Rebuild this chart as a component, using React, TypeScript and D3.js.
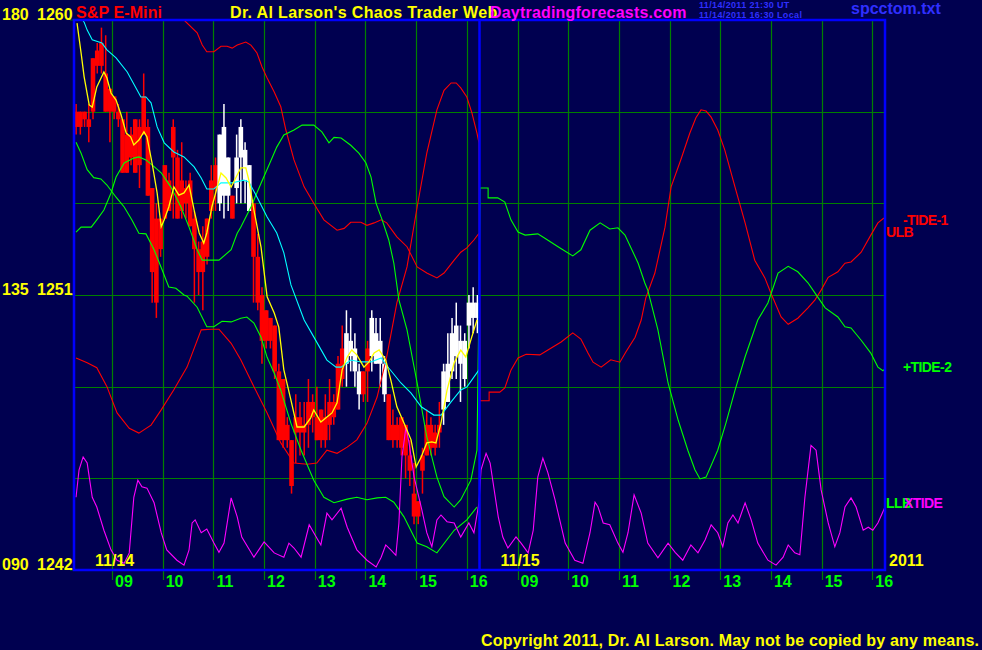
import React from 'react';
import * as d3 from 'd3';

const W = 982;
const H = 650;

// ---- axes / labels ----
const sessionDays = ['11/14', '11/15'];
const sessionStartHour = 8.25;
const sessionLength = 8;
const hourTicks = [9, 10, 11, 12, 13, 14, 15, 16];
const priceDomain = [1242, 1260];
const cycleDomain = [90, 180];
const priceGrid = [1245, 1248, 1251, 1254, 1257];
const priceLabels = [1260, 1251, 1242];
const cycleLabels = ['180', '135', '090'];
const yearLabel = '2011';

// ---- 5-minute bars, day 1 (open, high, low, close) ----
const bars: number[][] = [
  [1257.0, 1257.25, 1256.25, 1256.5], [1256.5, 1257.0, 1256.25, 1257.0], [1257.0, 1257.0, 1256.5, 1256.75],
  [1256.75, 1257.25, 1256.0, 1256.5], [1257.0, 1258.75, 1256.75, 1258.75], [1258.5, 1259.25, 1258.25, 1259.0],
  [1259.25, 1259.75, 1258.25, 1258.5], [1258.25, 1259.5, 1257.0, 1257.0], [1257.75, 1257.75, 1256.0, 1257.0],
  [1257.0, 1257.5, 1256.75, 1257.5], [1257.0, 1257.25, 1256.5, 1256.75], [1256.75, 1256.75, 1255.0, 1255.0],
  [1255.0, 1257.0, 1255.0, 1256.25], [1256.25, 1256.5, 1255.25, 1255.5], [1255.0, 1256.75, 1255.0, 1256.75],
  [1256.5, 1256.75, 1254.5, 1255.25], [1256.25, 1258.25, 1256.25, 1257.5], [1256.5, 1256.75, 1254.25, 1254.25],
  [1254.5, 1254.5, 1250.75, 1251.75], [1253.5, 1254.0, 1250.25, 1250.75], [1252.5, 1253.5, 1252.25, 1253.5],
  [1253.5, 1255.25, 1253.5, 1255.25], [1254.75, 1255.0, 1253.75, 1253.75], [1255.5, 1256.75, 1253.5, 1256.5],
  [1255.5, 1255.75, 1253.5, 1253.5], [1253.75, 1256.0, 1253.5, 1254.75], [1254.0, 1254.75, 1253.5, 1254.5],
  [1254.75, 1255.0, 1253.25, 1253.25], [1253.5, 1253.75, 1250.75, 1252.5], [1252.5, 1252.75, 1251.0, 1251.75],
  [1251.75, 1253.25, 1250.5, 1252.75], [1252.25, 1253.5, 1252.0, 1253.5], [1253.75, 1255.25, 1253.5, 1254.75],
  [1254.5, 1255.5, 1253.75, 1255.25], [1254.0, 1256.25, 1253.75, 1256.25], [1254.25, 1257.25, 1253.5, 1256.5],
  [1255.5, 1255.5, 1253.75, 1254.25], [1254.25, 1254.25, 1253.5, 1253.5], [1254.5, 1256.25, 1254.0, 1255.5],
  [1255.5, 1256.75, 1254.0, 1256.5], [1255.75, 1256.0, 1254.0, 1254.75], [1255.25, 1255.25, 1253.75, 1253.75],
  [1254.0, 1254.0, 1250.75, 1252.25], [1252.25, 1253.0, 1250.5, 1250.75], [1251.0, 1251.25, 1248.75, 1249.5],
  [1249.5, 1250.5, 1249.25, 1250.5], [1250.25, 1250.25, 1249.25, 1249.5], [1250.0, 1250.0, 1248.25, 1248.5],
  [1248.5, 1248.75, 1246.25, 1246.25], [1246.25, 1248.25, 1246.0, 1248.25], [1246.75, 1247.0, 1246.0, 1246.25],
  [1246.25, 1246.25, 1244.5, 1244.75], [1246.5, 1247.75, 1245.5, 1247.0], [1247.0, 1247.5, 1245.75, 1246.5],
  [1246.5, 1247.5, 1245.75, 1246.75], [1246.75, 1248.25, 1246.0, 1247.5], [1247.5, 1247.75, 1246.5, 1247.0],
  [1247.0, 1248.0, 1246.25, 1246.25], [1246.25, 1247.25, 1246.0, 1247.25], [1247.0, 1247.75, 1246.0, 1246.25],
  [1246.75, 1248.25, 1246.25, 1247.5], [1247.5, 1247.75, 1246.75, 1247.0], [1247.25, 1249.0, 1247.25, 1248.75],
  [1248.25, 1250.0, 1248.0, 1249.25], [1248.75, 1250.5, 1248.0, 1249.75], [1249.5, 1250.25, 1248.5, 1249.0],
  [1249.25, 1249.75, 1248.0, 1248.5], [1248.5, 1248.75, 1247.25, 1247.75], [1247.75, 1248.5, 1247.5, 1248.5],
  [1248.5, 1249.5, 1247.5, 1249.25], [1249.0, 1250.5, 1248.5, 1250.25], [1249.75, 1250.25, 1248.75, 1248.75],
  [1248.75, 1250.25, 1248.0, 1249.5], [1248.75, 1249.0, 1247.5, 1247.75], [1247.75, 1247.75, 1246.25, 1246.25],
  [1246.25, 1247.25, 1246.0, 1246.75], [1246.75, 1247.0, 1246.0, 1246.25], [1246.0, 1247.0, 1245.75, 1247.0],
  [1246.75, 1246.75, 1245.0, 1245.75], [1245.75, 1246.25, 1244.75, 1245.25], [1244.5, 1245.5, 1243.5, 1243.75],
  [1243.75, 1244.25, 1243.5, 1244.25], [1245.25, 1246.0, 1244.5, 1245.75], [1245.75, 1247.25, 1245.75, 1246.75],
  [1246.75, 1247.0, 1245.75, 1246.0], [1246.0, 1246.75, 1245.75, 1246.5], [1246.5, 1247.5, 1246.0, 1246.75],
  [1247.25, 1248.75, 1246.75, 1248.5], [1247.5, 1249.75, 1247.5, 1248.75], [1248.5, 1250.25, 1248.25, 1249.75],
  [1249.0, 1250.75, 1248.25, 1250.0], [1249.5, 1250.0, 1247.5, 1248.75], [1248.25, 1249.75, 1248.0, 1249.5],
  [1250.0, 1251.0, 1249.25, 1250.75], [1250.75, 1251.25, 1249.75, 1250.25], [1250.25, 1251.0, 1249.75, 1250.75],
];
const barsPerHour = 12;

// ---- price averages [session hour, price] ----
const fastAvg: number[][] = [
  [0.06, 1259.9], [0.14, 1258.92], [0.2, 1258.14], [0.3, 1257.22], [0.36, 1257.15], [0.45, 1257.81], [0.59, 1258.3],
  [0.65, 1258.1], [0.73, 1257.61], [0.83, 1257.38], [0.93, 1256.89], [1.03, 1256.3], [1.12, 1256.17], [1.18, 1255.91],
  [1.28, 1256.07], [1.38, 1256.34], [1.44, 1256.17], [1.54, 1255.32], [1.64, 1254.34], [1.72, 1253.23], [1.78, 1253.46],
  [1.87, 1253.88], [1.97, 1254.54], [2.07, 1254.27], [2.17, 1254.34], [2.27, 1254.6], [2.37, 1253.78], [2.47, 1253.03],
  [2.56, 1252.7], [2.62, 1253.03], [2.72, 1253.88], [2.9, 1254.99], [3.0, 1254.83], [3.1, 1254.53], [3.2, 1254.86],
  [3.29, 1255.16], [3.39, 1255.16], [3.45, 1254.76], [3.55, 1253.78], [3.69, 1252.57], [3.81, 1250.94], [3.95, 1250.41],
  [4.04, 1249.95], [4.14, 1248.55], [4.28, 1247.56], [4.4, 1246.68], [4.54, 1246.68], [4.67, 1246.98], [4.73, 1247.24],
  [4.87, 1246.84], [4.99, 1247.01], [5.09, 1247.14], [5.19, 1247.47], [5.29, 1248.55], [5.39, 1248.97], [5.48, 1249.2],
  [5.58, 1249.04], [5.72, 1248.64], [5.82, 1248.81], [5.92, 1249.1], [6.02, 1249.2], [6.15, 1248.87], [6.25, 1248.22],
  [6.37, 1247.34], [6.51, 1246.81], [6.65, 1246.26], [6.75, 1245.37], [6.85, 1245.7], [6.96, 1246.16], [7.06, 1246.19],
  [7.14, 1246.16], [7.24, 1246.81], [7.36, 1247.89], [7.5, 1248.78], [7.63, 1249.2], [7.73, 1248.97], [7.83, 1249.53],
  [7.95, 1250.18],
];
const slowAvg: number[][] = [
  [0.06, 1260.26], [0.2, 1259.93], [0.26, 1259.67], [0.36, 1259.35], [0.55, 1259.25], [0.65, 1259.02], [0.83, 1258.76],
  [1.05, 1258.3], [1.32, 1257.48], [1.42, 1257.48], [1.52, 1257.29], [1.64, 1256.5], [1.78, 1255.98], [1.97, 1255.68],
  [2.17, 1255.52], [2.37, 1255.19], [2.51, 1254.83], [2.62, 1254.47], [2.76, 1254.47], [2.9, 1254.67], [3.12, 1254.67],
  [3.35, 1254.76], [3.45, 1254.7], [3.61, 1254.21], [3.81, 1253.55], [4.0, 1253.03], [4.14, 1252.38], [4.28, 1251.33],
  [4.54, 1250.18], [4.73, 1249.63], [4.99, 1248.87], [5.17, 1248.64], [5.27, 1248.64], [5.46, 1248.87], [5.66, 1248.81],
  [5.86, 1248.81], [6.06, 1248.94], [6.21, 1248.61], [6.45, 1248.12], [6.65, 1247.79], [6.85, 1247.34], [7.1, 1247.07],
  [7.24, 1247.07], [7.44, 1247.5], [7.63, 1247.89], [7.75, 1247.99], [7.99, 1248.55],
];

// ---- tides on the 090..180 cycle scale [session hour, value] ----
const upperBand: number[][] = [
  [2.01, 181.3], [2.17, 180.0], [2.43, 177.9], [2.53, 175.9], [2.62, 174.8], [2.76, 174.8], [2.9, 175.7], [3.02, 175.7],
  [3.12, 175.4], [3.22, 175.9], [3.39, 176.4], [3.49, 175.9], [3.61, 174.6], [3.71, 172.3], [3.81, 170.5], [3.95, 168.2],
  [4.08, 165.8], [4.18, 162.0], [4.34, 157.1], [4.54, 152.7], [4.73, 150.0], [4.93, 147.3], [5.19, 145.6], [5.33, 145.9],
  [5.46, 146.9], [5.66, 146.9], [5.78, 146.4], [5.92, 146.8], [6.06, 147.3], [6.17, 146.8], [6.37, 144.5], [6.57, 142.9],
  [6.77, 139.6], [6.96, 138.6], [7.16, 137.8], [7.3, 138.6], [7.5, 140.7], [7.63, 142.0], [7.75, 142.7], [7.89, 144.0],
  [7.99, 145.1],
];
const tide1: number[][] = [
  [0.04, 124.7], [0.26, 123.9], [0.45, 123.1], [0.65, 120.0], [0.85, 115.7], [1.09, 113.2], [1.28, 112.4], [1.52, 113.7],
  [1.72, 116.2], [1.97, 119.5], [2.23, 123.2], [2.51, 129.3], [2.7, 129.4], [2.86, 129.4], [3.1, 127.1], [3.29, 124.4],
  [3.55, 120.0], [3.81, 115.7], [4.08, 110.8], [4.34, 107.5], [4.6, 107.3], [4.79, 107.5], [4.99, 109.6], [5.19, 109.1],
  [5.39, 110.1], [5.58, 111.3], [5.78, 114.0], [5.98, 118.3], [6.17, 124.9], [6.37, 133.7], [6.57, 139.6], [6.77, 149.4],
  [6.96, 158.2], [7.16, 165.3], [7.3, 168.5], [7.44, 169.7], [7.54, 169.7], [7.63, 168.9], [7.75, 167.4], [7.85, 164.8],
  [7.95, 161.5], [7.99, 159.9],
  [8.01, 117.7], [8.19, 117.7], [8.19, 119.1], [8.4, 119.1], [8.5, 119.8], [8.62, 122.7], [8.76, 124.7], [8.92, 125.3],
  [9.19, 125.2], [9.35, 126.0], [9.61, 127.3], [9.84, 128.8], [10.0, 127.8], [10.14, 125.5], [10.24, 124.0], [10.4, 123.2],
  [10.59, 124.4], [10.77, 124.0], [10.89, 125.7], [11.07, 128.1], [11.19, 130.9], [11.28, 134.5], [11.46, 138.6],
  [11.66, 146.1], [11.78, 152.7], [11.97, 157.1], [12.15, 161.5], [12.27, 164.0], [12.37, 165.3], [12.47, 165.1],
  [12.57, 164.1], [12.7, 162.0], [12.84, 158.7], [13.04, 152.7], [13.24, 146.8], [13.43, 140.7], [13.63, 137.8],
  [13.75, 135.3], [13.95, 131.4], [14.09, 130.2], [14.28, 131.2], [14.48, 132.9], [14.62, 134.2], [14.74, 135.8],
  [14.88, 137.9], [15.07, 138.8], [15.21, 140.2], [15.33, 140.4], [15.53, 142.0], [15.72, 144.8], [15.86, 146.8],
  [15.98, 147.6],
];
const tide2: number[][] = [
  [0.04, 145.3], [0.14, 146.1], [0.34, 146.1], [0.45, 147.3], [0.59, 148.9], [0.73, 151.7], [0.83, 154.3], [0.99, 156.6],
  [1.18, 157.4], [1.28, 157.6], [1.42, 157.1], [1.58, 156.0], [1.72, 155.0], [1.91, 152.7], [2.11, 149.4], [2.27, 146.1],
  [2.43, 142.4], [2.53, 140.7], [2.86, 140.7], [3.1, 142.4], [3.22, 145.1], [3.29, 146.1], [3.49, 149.4], [3.69, 153.3],
  [3.89, 157.1], [4.0, 159.2], [4.14, 161.2], [4.34, 162.0], [4.5, 162.8], [4.73, 162.8], [4.89, 161.7], [5.03, 159.9],
  [5.13, 160.8], [5.27, 160.7], [5.46, 159.5], [5.62, 158.2], [5.76, 156.6], [5.86, 154.3], [5.96, 150.0], [6.08, 147.3],
  [6.21, 144.0], [6.31, 140.2], [6.41, 134.2], [6.57, 129.3], [6.77, 120.6], [6.96, 111.8], [7.16, 105.2], [7.3, 102.0],
  [7.5, 100.3], [7.63, 101.5], [7.83, 104.7], [7.95, 109.6], [7.99, 134.2],
  [8.01, 152.5], [8.17, 152.5], [8.17, 150.9], [8.36, 150.9], [8.5, 150.2], [8.62, 147.3], [8.76, 145.3], [8.9, 144.8],
  [9.15, 145.0], [9.29, 144.3], [9.55, 142.9], [9.84, 141.4], [10.0, 142.4], [10.18, 145.6], [10.38, 146.8], [10.57, 145.8],
  [10.73, 146.0], [10.87, 144.8], [10.99, 142.7], [11.13, 140.2], [11.26, 137.0], [11.32, 135.8], [11.52, 129.3],
  [11.72, 120.6], [11.92, 114.5], [12.11, 109.6], [12.25, 106.4], [12.35, 104.9], [12.47, 105.2], [12.7, 109.6],
  [12.86, 114.0], [13.04, 119.4], [13.24, 124.9], [13.49, 130.9], [13.69, 133.7], [13.89, 138.6], [14.09, 139.7],
  [14.28, 138.8], [14.48, 137.0], [14.62, 135.3], [14.82, 132.9], [15.07, 131.4], [15.21, 129.8], [15.33, 129.6],
  [15.53, 127.6], [15.72, 125.5], [15.86, 123.2], [15.96, 122.6], [16.0, 122.9],
];
const lowerBand: number[][] = [
  [0.04, 160.0], [0.14, 158.2], [0.26, 155.5], [0.39, 154.2], [0.53, 154.0], [0.65, 153.0], [0.83, 151.0], [0.99, 149.4],
  [1.14, 147.3], [1.28, 145.1], [1.42, 145.0], [1.58, 142.4], [1.74, 139.1], [1.87, 136.3], [2.01, 136.1], [2.17, 135.0],
  [2.23, 134.8], [2.43, 133.0], [2.62, 129.8], [2.76, 129.8], [2.92, 130.7], [3.1, 130.6], [3.29, 131.2], [3.41, 131.4],
  [3.55, 130.4], [3.69, 128.1], [3.81, 124.8], [3.95, 122.2], [4.08, 119.4], [4.28, 114.0], [4.48, 109.6], [4.73, 104.7],
  [4.93, 101.9], [5.13, 101.0], [5.39, 101.6], [5.58, 101.9], [5.78, 101.5], [5.98, 101.8], [6.15, 101.9], [6.31, 101.1],
  [6.51, 98.7], [6.77, 94.4], [6.96, 93.8], [7.16, 92.8], [7.5, 96.5], [7.75, 98.2], [7.95, 100.3],
];
const xtide: number[][] = [
  [0.04, 101.9], [0.1, 106.4], [0.18, 108.5], [0.26, 107.5], [0.36, 101.9], [0.45, 100.3], [0.59, 96.5], [0.73, 93.3],
  [0.85, 91.6], [0.99, 91.1], [1.09, 92.8], [1.18, 101.9], [1.26, 104.7], [1.34, 103.6], [1.44, 103.4], [1.58, 101.0],
  [1.72, 96.1], [1.83, 93.3], [2.03, 91.6], [2.17, 90.8], [2.27, 93.3], [2.33, 97.7], [2.39, 98.2], [2.51, 96.1],
  [2.62, 96.7], [2.76, 94.4], [2.86, 92.9], [2.96, 94.4], [3.1, 101.8], [3.22, 98.7], [3.31, 95.4], [3.55, 92.1],
  [3.75, 94.6], [3.95, 92.8], [4.14, 92.1], [4.24, 94.4], [4.34, 93.6], [4.48, 92.1], [4.64, 97.4], [4.73, 96.1],
  [4.87, 94.1], [4.99, 99.3], [5.09, 98.2], [5.27, 100.1], [5.39, 97.0], [5.58, 93.3], [5.78, 91.6], [5.96, 90.5],
  [6.06, 92.1], [6.15, 94.1], [6.25, 93.3], [6.35, 92.4], [6.41, 97.7], [6.47, 108.5], [6.55, 113.4], [6.61, 110.8],
  [6.71, 105.2], [6.85, 100.3], [6.96, 96.1], [7.06, 93.8], [7.16, 98.2], [7.24, 99.0], [7.36, 97.9], [7.5, 97.7],
  [7.63, 95.4], [7.79, 97.7], [7.89, 96.1], [7.99, 101.0],
  [8.03, 106.4], [8.13, 109.1], [8.21, 107.5], [8.27, 104.2], [8.37, 98.7], [8.46, 95.4], [8.56, 93.6], [8.72, 95.4],
  [8.82, 94.4], [8.96, 92.8], [9.06, 96.5], [9.15, 105.2], [9.25, 108.3], [9.35, 105.9], [9.49, 101.5], [9.69, 94.4],
  [9.88, 91.6], [10.04, 91.1], [10.18, 96.1], [10.28, 101.1], [10.34, 100.3], [10.44, 97.7], [10.57, 97.4], [10.73, 94.4],
  [10.83, 92.9], [10.93, 96.1], [11.05, 102.3], [11.19, 99.3], [11.32, 94.4], [11.52, 92.0], [11.72, 94.4], [11.86, 92.9],
  [12.01, 91.6], [12.17, 94.1], [12.31, 92.8], [12.45, 94.9], [12.57, 97.4], [12.7, 96.1], [12.8, 93.8], [12.9, 97.7],
  [13.0, 99.0], [13.1, 97.7], [13.24, 101.0], [13.36, 98.2], [13.49, 94.4], [13.69, 91.6], [13.85, 90.8], [13.99, 92.1],
  [14.09, 94.1], [14.22, 92.8], [14.32, 92.5], [14.42, 101.9], [14.54, 110.4], [14.64, 109.6], [14.74, 103.1],
  [14.88, 97.7], [15.01, 93.8], [15.11, 96.1], [15.21, 100.3], [15.33, 101.8], [15.43, 100.3], [15.57, 96.5],
  [15.67, 97.0], [15.76, 96.5], [15.86, 97.7], [16.0, 100.3],
];

const rightLabels = [
  { text: '-TIDE-1', color: '#ff0000', v: 146.5, dx: 18 },
  { text: 'ULB', color: '#ff0000', v: 144.5, dx: 1 },
  { text: '+TIDE-2', color: '#00ff00', v: 122.4, dx: 18 },
  { text: 'LLB', color: '#00ff00', v: 100.2, dx: 1 },
  { text: 'XTIDE', color: '#ff00ff', v: 100.2, dx: 19 },
];

function valueAt(series: number[][], t: number): number {
  if (t <= series[0][0]) return series[0][1];
  for (let i = 1; i < series.length; i++) {
    if (t <= series[i][0]) {
      const [t0, v0] = series[i - 1];
      const [t1, v1] = series[i];
      return t1 === t0 ? v1 : v0 + ((v1 - v0) * (t - t0)) / (t1 - t0);
    }
  }
  return series[series.length - 1][1];
}

const FONT = '"Liberation Sans", Arial, Helvetica, sans-serif';

export default function App() {
  const left = 74, right = 885, top = 20, bottom = 570;
  const x = d3.scaleLinear().domain([0, sessionLength * sessionDays.length]).range([left, right]);
  const yP = d3.scaleLinear().domain(priceDomain).range([bottom, top]);
  const yT = d3.scaleLinear().domain(cycleDomain).range([bottom, top]);
  const tideLine = d3.line<number[]>().x((d) => x(d[0])).y((d) => yT(d[1]));
  const priceLine = d3.line<number[]>().x((d) => x(d[0])).y((d) => yP(d[1]));

  const hourGrid: { t: number; label: string }[] = [];
  sessionDays.forEach((_, di) => {
    hourTicks.forEach((h) => {
      hourGrid.push({ t: di * sessionLength + h - sessionStartHour, label: String(h).padStart(2, '0') });
    });
  });

  const bodyW = 4.6;

  return (
    <svg width={W} height={H} style={{ position: 'absolute', left: 0, top: 0, display: 'block' }}>
      <defs>
        <clipPath id="plotClip">
          <rect x={left} y={top} width={right - left} height={bottom - top} />
        </clipPath>
      </defs>
      <rect x={0} y={0} width={W} height={H} fill="#000050" />

      {/* grid */}
      {priceGrid.map((p) => (
        <line key={'h' + p} x1={left} x2={right} y1={Math.round(yP(p)) + 0.5} y2={Math.round(yP(p)) + 0.5} stroke="#008000" strokeWidth={1.2} />
      ))}
      {hourGrid.map((g, i) => (
        <line key={'v' + i} x1={Math.round(x(g.t)) + 0.5} x2={Math.round(x(g.t)) + 0.5} y1={top} y2={bottom + 10} stroke="#008000" strokeWidth={1.2} />
      ))}
      {priceLabels.map((p) => (
        <line key={'lt' + p} x1={left - 4} x2={left} y1={yP(p)} y2={yP(p)} stroke="#008000" strokeWidth={1} />
      ))}

      <g clipPath="url(#plotClip)">
        {/* candles */}
        {bars.map((b, i) => {
          const t = (i + 0.5) / barsPerHour;
          const cx = x(t);
          const white = valueAt(fastAvg, t) > valueAt(slowAvg, t);
          const col = white ? '#ffffff' : '#ff0000';
          const [o, h, l, c] = b;
          const yTop = yP(Math.max(o, c));
          const yBot = yP(Math.min(o, c));
          return (
            <g key={'b' + i}>
              <line x1={cx} x2={cx} y1={yP(h)} y2={yP(l)} stroke={col} strokeWidth={1.5} />
              <rect x={cx - bodyW / 2} y={yTop} width={bodyW} height={Math.max(1.5, yBot - yTop)} fill={col} />
            </g>
          );
        })}
        {/* tides */}
        <path d={tideLine(upperBand) || ''} fill="none" stroke="#ff0000" strokeWidth={1.1} />
        <path d={tideLine(tide1) || ''} fill="none" stroke="#ff0000" strokeWidth={1.1} />
        <path d={tideLine(lowerBand) || ''} fill="none" stroke="#00ff00" strokeWidth={1.1} />
        <path d={tideLine(tide2) || ''} fill="none" stroke="#00ff00" strokeWidth={1.1} />
        <path d={tideLine(xtide) || ''} fill="none" stroke="#ff00ff" strokeWidth={1.1} />
        {/* averages */}
        <path d={priceLine(slowAvg) || ''} fill="none" stroke="#00ffff" strokeWidth={1.1} />
        <path d={priceLine(fastAvg) || ''} fill="none" stroke="#ffff00" strokeWidth={1.3} />
      </g>

      {/* day separator and frame */}
      <line x1={x(sessionLength)} x2={x(sessionLength)} y1={top} y2={bottom} stroke="#0000ff" strokeWidth={2.5} />
      <rect x={left} y={top} width={right - left} height={bottom - top} fill="none" stroke="#0000ff" strokeWidth={2.5} />

      {/* left labels */}
      {priceLabels.map((p, i) => (
        <g key={'pl' + p} fontFamily={FONT} fontWeight="bold" fontSize={16} fill="#ffff00">
          <text x={2} y={yP(p) - 0.5}>{cycleLabels[i]}</text>
          <text x={37} y={yP(p) - 0.5}>{p}</text>
        </g>
      ))}

      {/* bottom labels */}
      {hourGrid.map((g, i) => (
        <text key={'hl' + i} x={x(g.t) + 3} y={587} fontFamily={FONT} fontWeight="bold" fontSize={16} fill="#00ff00">
          {g.label}
        </text>
      ))}
      {sessionDays.map((d, i) => (
        <text key={'d' + i} x={x(i * sessionLength) + 21} y={566} fontFamily={FONT} fontWeight="bold" fontSize={16} fill="#ffff00">
          {d}
        </text>
      ))}
      <text x={right + 4} y={566} fontFamily={FONT} fontWeight="bold" fontSize={16} fill="#ffff00">{yearLabel}</text>

      {/* right labels */}
      {rightLabels.map((r) => (
        <text key={r.text} x={right + r.dx} y={yT(r.v)} fontFamily={FONT} fontWeight="bold" fontSize={14} letterSpacing={-0.6} fill={r.color}>
          {r.text}
        </text>
      ))}

      {/* header */}
      <g fontFamily={FONT} fontWeight="bold" fontSize={16}>
        <text x={76} y={18} fill="#ff0000" letterSpacing={0.1}>S&amp;P E-Mini</text>
        <text x={230} y={18} fill="#ffff00" letterSpacing={0.35}>Dr. Al Larson's Chaos Trader Web</text>
        <text x={490} y={18} fill="#ff00ff" letterSpacing={0.2}>Daytradingforecasts.com</text>
        <text x={851} y={14} fill="#2f2fff">spcctom.txt</text>
      </g>
      <g fontFamily={FONT} fontWeight="bold" fontSize={9} fill="#2f2fff" letterSpacing={0.35}>
        <text x={699} y={8}>11/14/2011 21:30 UT</text>
        <text x={699} y={18}>11/14/2011 16:30 Local</text>
      </g>

      <text x={481} y={646} fontFamily={FONT} fontWeight="bold" fontSize={16} fill="#ffff00" letterSpacing={0.2}>
        Copyright 2011, Dr. Al Larson. May not be copied by any means.
      </text>
    </svg>
  );
}
